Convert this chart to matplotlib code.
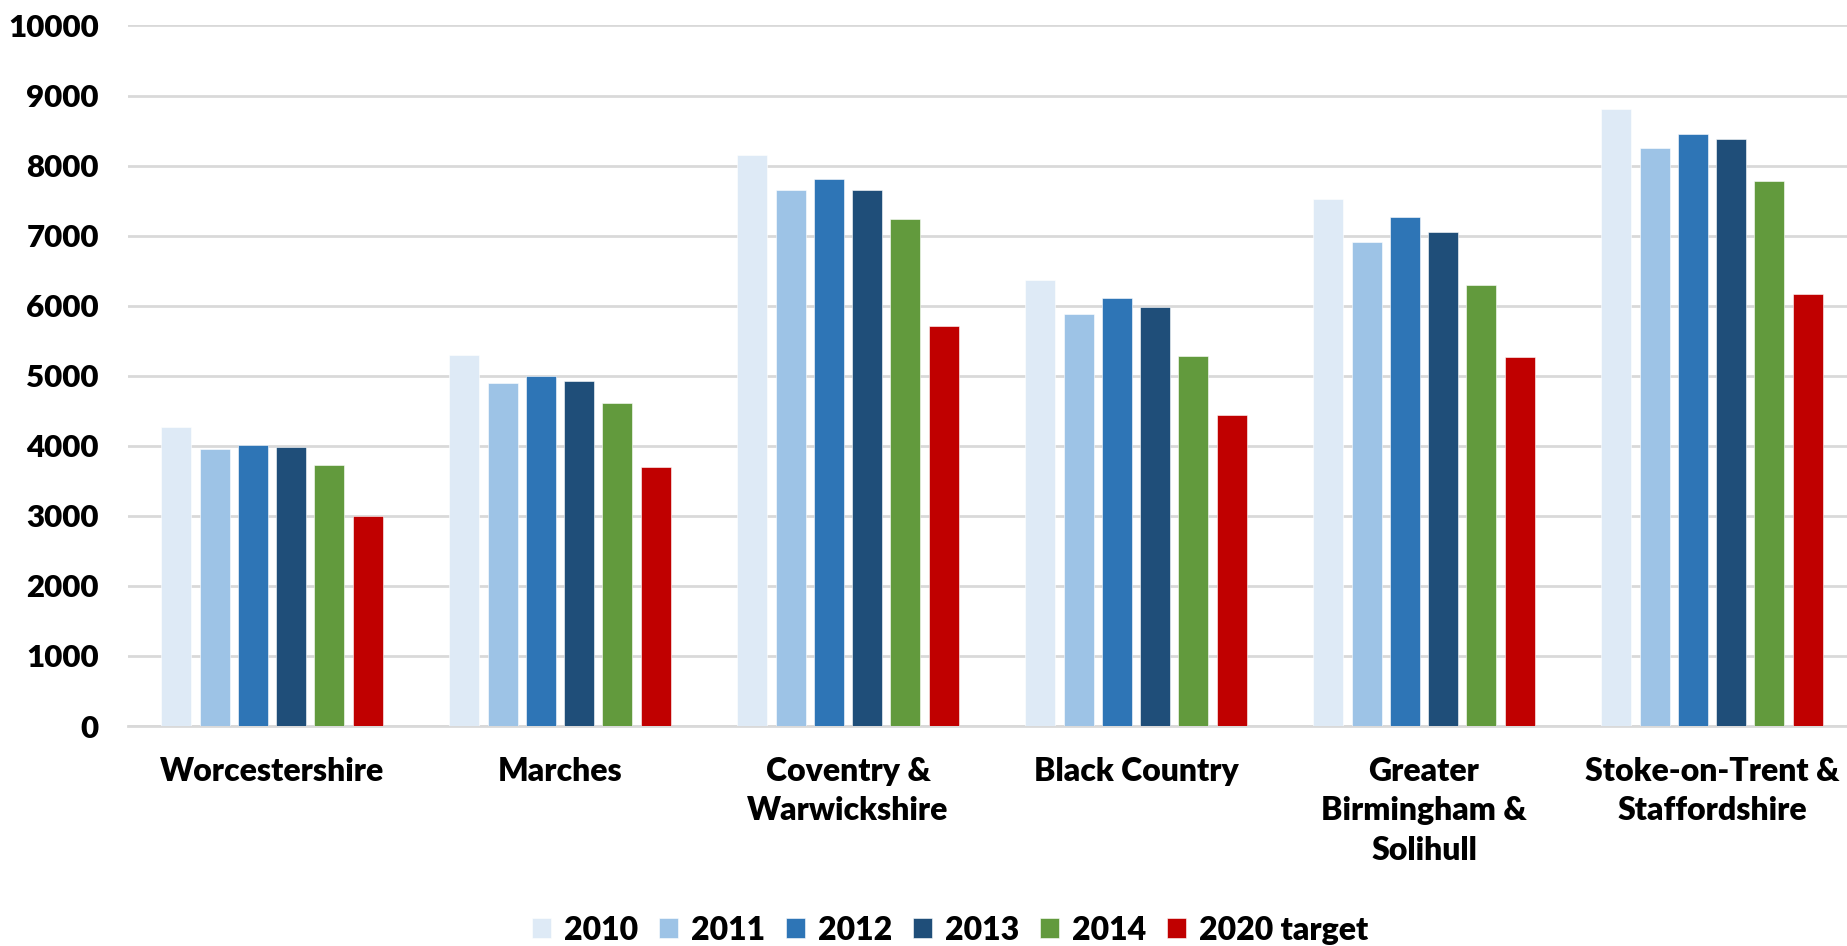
import numpy as np
import matplotlib
matplotlib.use("Agg")
import matplotlib.pyplot as plt

# values
regions = ["Worcestershire", "Marches", "Coventry &\nWarwickshire", "Black Country",
           "Greater\nBirmingham &\nSolihull", "Stoke-on-Trent &\nStaffordshire"]
series_names = ["2010", "2011", "2012", "2013", "2014", "2020 target"]
v2010 = [4275, 5290, 8155, 6360, 7520, 8809]
v2011 = [3950, 4895, 7658, 5875, 6909, 8251]
v2012 = [4015, 5000, 7810, 6110, 7270, 8456]
v2013 = [3980, 4920, 7658, 5978, 7057, 8385]
v2014 = [3720, 4610, 7242, 5285, 6302, 7776]
vtarget = [2995, 3695, 5705, 4441, 5261, 6171]
yticks = [0, 1000, 2000, 3000, 4000, 5000, 6000, 7000, 8000, 9000, 10000]

colors = ["#DEEAF6", "#9DC3E6", "#2E75B6", "#1F4E79", "#629A3D", "#C00000"]
all_series = [v2010, v2011, v2012, v2013, v2014, vtarget]

plt.rcParams['font.family'] = ['Lato', 'DejaVu Sans']
FW = 'heavy'
FS = 23

W, H = 1847, 946
fig = plt.figure(figsize=(W / 100, H / 100), dpi=100)
ax = fig.add_axes([128 / W, 220 / H, 1728 / W, 700.5 / H])

x = np.arange(len(regions))
pitch = 0.133
bw = 0.104
for i, (name, vals) in enumerate(zip(series_names, all_series)):
    off = (i - 2.5) * pitch
    ax.bar(x + off, vals, width=bw, color=colors[i], label=name,
           edgecolor="white", linewidth=0.4, zorder=3)

ax.set_xlim(-0.5, len(regions) - 0.5)
ax.set_ylim(0, 10000)
ax.set_yticks(yticks)
ax.set_yticklabels([str(t) for t in yticks], fontsize=22.5, fontweight=FW)
ax.grid(axis='y', color='#D9D9D9', linewidth=2, zorder=0)
ax.set_axisbelow(True)

ax.set_xticks(x)
ax.set_xticklabels(regions, fontsize=FS, fontweight=FW, linespacing=1.45, va='top')
ax.tick_params(axis='x', length=0, pad=22)
ax.tick_params(axis='y', length=0, pad=21)

for s in ['top', 'right', 'left']:
    ax.spines[s].set_visible(False)
ax.spines['bottom'].set_color('#D9D9D9')
ax.spines['bottom'].set_linewidth(2)

leg = fig.legend(loc='center', bbox_to_anchor=(950 / W, 16 / H), ncol=6, frameon=False,
                 handlelength=0.6, handleheight=0.6, handletextpad=0.4,
                 columnspacing=0.65, prop={'weight': FW, 'size': FS})

fig.savefig("out.png", dpi=100)
